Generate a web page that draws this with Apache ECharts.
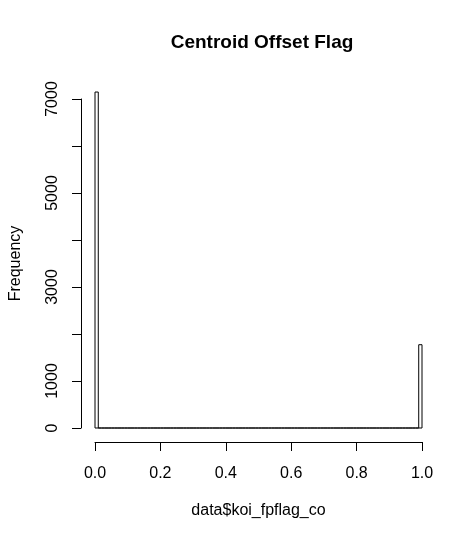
<!DOCTYPE html>
<html lang="en">
<head>
    <meta charset="UTF-8">
    <title>Centroid Offset Flag</title>
    <script src="https://cdn.jsdelivr.net/npm/echarts@6/dist/echarts.min.js"></script>
    <style>
        html, body { margin: 0; padding: 0; background: #fff; }
    </style>
</head>
<body>
   <div id="main" style="width: 476px;height:540px;"></div>
   <script type="text/javascript">
       // histogram of data$koi_fpflag_co, breaks every 0.01 from 0 to 1
       var binWidth = 0.01;
       var counts = [
           7148, 0, 0, 0, 0, 0, 0, 0, 0, 0,
           0, 0, 0, 0, 0, 0, 0, 0, 0, 0,
           0, 0, 0, 0, 0, 0, 0, 0, 0, 0,
           0, 0, 0, 0, 0, 0, 0, 0, 0, 0,
           0, 0, 0, 0, 0, 0, 0, 0, 0, 0,
           0, 0, 0, 0, 0, 0, 0, 0, 0, 0,
           0, 0, 0, 0, 0, 0, 0, 0, 0, 0,
           0, 0, 0, 0, 0, 0, 0, 0, 0, 0,
           0, 0, 0, 0, 0, 0, 0, 0, 0, 0,
           0, 0, 0, 0, 0, 0, 0, 0, 0, 1772
       ];
       var xTicks = [0, 0.2, 0.4, 0.6, 0.8, 1.0];
       var yTicks = [0, 1000, 2000, 3000, 4000, 5000, 6000, 7000];
       var yLabelsShown = [0, 1000, 3000, 5000, 7000];

       var bins = counts.map(function (c, i) {
           return [i * binWidth, (i + 1) * binWidth, c];
       });

       var font = '"Liberation Sans", Arial, sans-serif';
       var myChart = echarts.init(document.getElementById('main'), null, {renderer: 'canvas'});

       var option = {
           backgroundColor: '#ffffff',
           animation: false,
           title: {
               text: 'Centroid Offset Flag',
               left: 257,
               top: 28,
               textAlign: 'center',
               textStyle: {fontFamily: font, fontSize: 19, fontWeight: 'bold', color: '#000'}
           },
           grid: {left: 92, right: 54, top: 99, bottom: 112},
           xAxis: {
               type: 'value',
               min: xTicks[0],
               max: xTicks[xTicks.length - 1],
               interval: 0.2,
               offset: 14,
               name: 'data$koi_fpflag_co',
               nameLocation: 'middle',
               nameGap: 61,
               nameTextStyle: {fontFamily: font, fontSize: 16, color: '#000'},
               splitLine: {show: false},
               axisLine: {show: true, onZero: false, lineStyle: {color: '#000', width: 1}},
               axisTick: {show: true, length: 9, lineStyle: {color: '#000', width: 1}},
               axisLabel: {
                   margin: 24,
                   fontFamily: font, fontSize: 16, color: '#000',
                   formatter: function (v) { return v.toFixed(1); }
               }
           },
           yAxis: {
               type: 'value',
               min: yTicks[0],
               max: yTicks[yTicks.length - 1],
               interval: 1000,
               offset: 14,
               name: 'Frequency',
               nameLocation: 'middle',
               nameGap: 57,
               nameTextStyle: {fontFamily: font, fontSize: 16, color: '#000'},
               splitLine: {show: false},
               axisLine: {show: true, onZero: false, lineStyle: {color: '#000', width: 1}},
               axisTick: {show: true, length: 9, lineStyle: {color: '#000', width: 1}},
               axisLabel: {
                   rotate: 90,
                   margin: 20,
                   fontFamily: font, fontSize: 16, color: '#000',
                   formatter: function (v) {
                       return yLabelsShown.indexOf(v) >= 0 ? String(v) : '';
                   }
               }
           },
           series: [{
               type: 'custom',
               clip: false,
               encode: {x: [0, 1], y: 2},
               data: bins,
               renderItem: function (params, api) {
                   var p0 = api.coord([api.value(0), api.value(2)]);
                   var p1 = api.coord([api.value(1), 0]);
                   return {
                       type: 'rect',
                       shape: {x: p0[0], y: p0[1], width: p1[0] - p0[0], height: p1[1] - p0[1]},
                       style: {fill: '#fff', stroke: '#000', lineWidth: 1}
                   };
               }
           }]
       };

       myChart.setOption(option);
   </script>
</body>
</html>
